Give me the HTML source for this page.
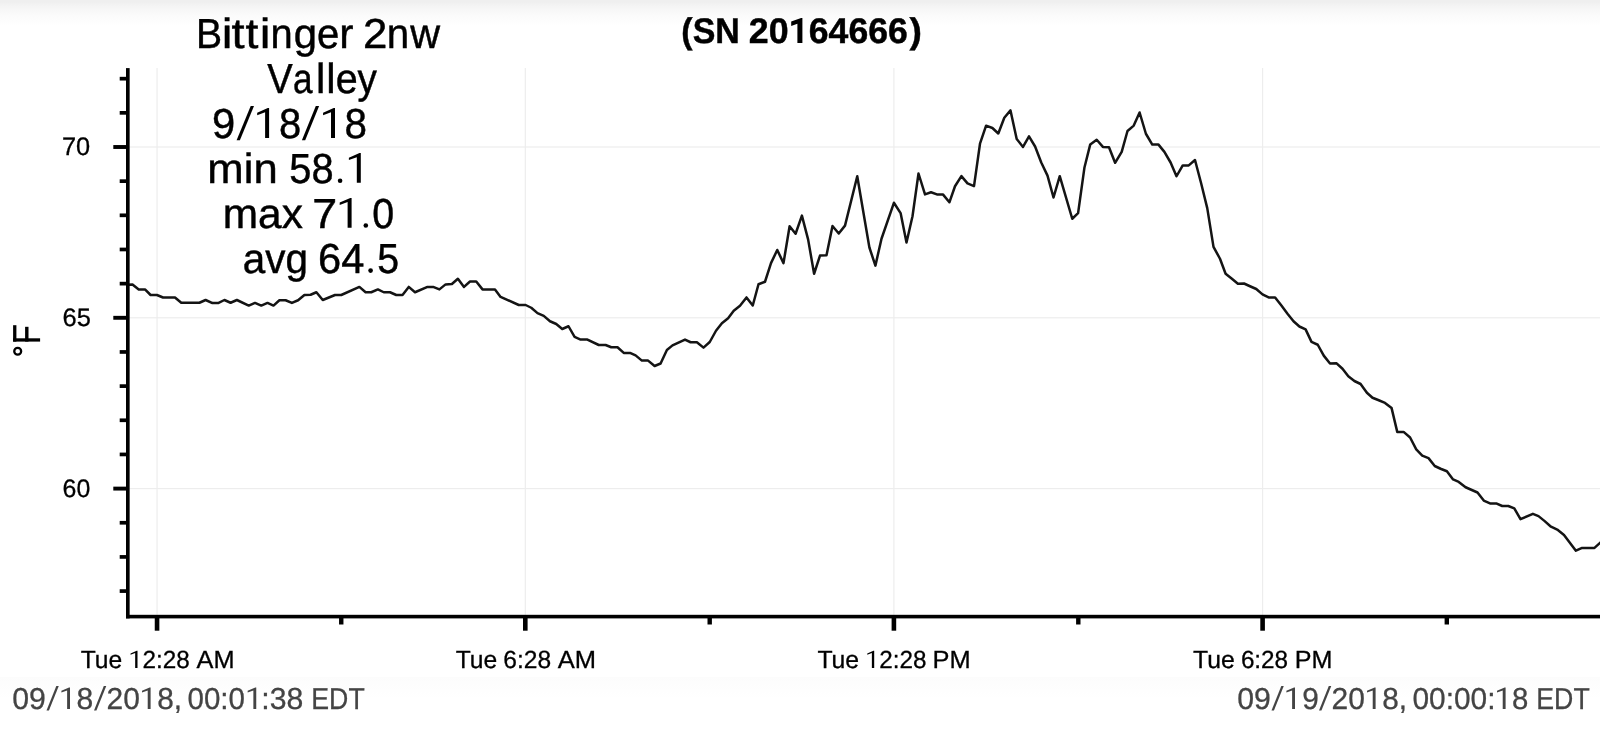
<!DOCTYPE html>
<html><head><meta charset="utf-8"><title>chart</title>
<style>
html,body{margin:0;padding:0;background:#fff;}
body{width:1600px;height:731px;overflow:hidden;position:relative;font-family:"Liberation Sans",sans-serif;}
#top{position:absolute;left:0;top:0;width:1600px;height:26px;background:linear-gradient(to bottom,#efefef 0px,#efefef 2px,#f4f4f4 6px,#f8f8f8 11px,#fbfbfb 16px,#fdfdfd 21px,#ffffff 26px);}
#bot{position:absolute;left:0;top:677px;width:1600px;height:24px;background:linear-gradient(to bottom,#fcfcfc 0px,#fdfdfd 6px,#fefefe 14px,#ffffff 22px);}
svg{position:absolute;left:0;top:0;will-change:transform;}
text{font-family:"Liberation Sans",sans-serif;text-rendering:geometricPrecision;}
</style></head><body>
<div id="top"></div>
<div id="bot"></div>
<svg width="1600" height="731" viewBox="0 0 1600 731">
<rect x="156.45" y="68" width="1.2" height="547" fill="#ededed"/>
<rect x="524.70" y="68" width="1.2" height="547" fill="#ededed"/>
<rect x="893.30" y="68" width="1.2" height="547" fill="#ededed"/>
<rect x="1262.00" y="68" width="1.2" height="547" fill="#ededed"/>
<rect x="129" y="146.40" width="1471" height="1.2" fill="#ededed"/>
<rect x="129" y="317.20" width="1471" height="1.2" fill="#ededed"/>
<rect x="129" y="488.00" width="1471" height="1.2" fill="#ededed"/>
<path d="M127.50,284.80 L132.50,284.40 L138.75,289.40 L145.00,289.40 L150.60,295.00 L156.90,295.00 L163.10,297.50 L175.00,297.50 L181.25,302.75 L199.40,302.75 L205.60,300.00 L212.50,303.10 L218.10,303.10 L224.40,300.00 L230.60,302.75 L236.90,300.00 L248.75,305.60 L255.00,302.90 L261.25,305.60 L267.50,302.90 L273.50,305.60 L279.40,300.25 L285.60,300.25 L291.90,302.90 L298.10,300.25 L304.40,295.00 L310.60,294.75 L316.40,292.25 L322.75,300.00 L335.00,295.00 L341.25,295.00 L359.40,286.90 L365.60,292.25 L371.25,292.25 L377.90,289.40 L383.75,292.25 L390.00,292.25 L396.25,295.00 L402.50,295.00 L408.75,286.90 L415.00,292.25 L427.50,286.90 L433.10,286.90 L439.40,289.40 L445.60,284.40 L451.90,284.00 L457.90,278.75 L464.00,286.90 L470.00,281.50 L476.25,281.50 L482.50,289.40 L495.00,289.40 L500.60,296.90 L518.75,305.00 L525.60,305.00 L531.25,307.75 L537.50,313.10 L543.75,315.90 L550.00,321.25 L556.25,324.00 L562.25,329.00 L568.50,326.25 L574.60,336.90 L580.60,339.60 L586.90,339.40 L598.75,345.00 L605.60,345.00 L611.25,347.25 L617.50,347.25 L623.75,352.90 L630.00,352.90 L635.60,355.40 L641.90,360.60 L648.10,360.60 L654.60,366.00 L660.60,363.50 L666.90,350.00 L672.50,345.40 L685.00,339.60 L690.60,342.25 L696.90,342.25 L703.50,347.60 L709.75,342.00 L716.00,330.75 L721.90,323.25 L728.10,318.25 L733.75,310.75 L740.00,305.75 L746.50,297.40 L752.75,305.50 L758.50,284.25 L765.00,281.75 L771.00,263.10 L777.25,250.00 L783.50,263.10 L789.60,226.25 L795.60,233.75 L801.90,215.60 L808.10,239.40 L814.10,273.75 L820.00,255.60 L826.50,255.25 L832.50,226.00 L838.75,233.50 L845.00,225.60 L857.25,176.25 L863.75,214.50 L869.40,247.50 L875.40,265.60 L881.50,238.75 L893.90,202.80 L900.60,213.10 L906.50,242.50 L912.50,216.25 L918.50,173.50 L925.00,194.40 L931.00,192.25 L936.90,194.40 L943.10,194.60 L949.40,202.30 L955.00,186.25 L961.40,176.10 L967.50,183.40 L974.00,186.10 L980.00,143.70 L986.10,125.70 L992.40,128.00 L998.30,133.50 L1004.30,117.80 L1010.50,110.40 L1016.70,138.90 L1023.00,146.90 L1029.00,136.40 L1035.10,146.50 L1041.25,162.50 L1047.50,175.60 L1053.50,197.50 L1059.75,176.20 L1072.25,218.75 L1078.10,213.10 L1084.40,167.80 L1090.25,144.40 L1096.70,139.70 L1102.90,146.90 L1109.00,147.20 L1115.10,162.80 L1121.70,151.90 L1127.50,131.00 L1133.75,125.60 L1139.60,112.50 L1145.90,133.75 L1152.30,144.60 L1158.50,144.60 L1164.40,151.90 L1170.60,162.50 L1176.50,176.25 L1182.75,165.40 L1188.75,165.40 L1195.00,160.00 L1201.25,183.75 L1207.25,208.10 L1213.50,246.90 L1220.00,258.75 L1225.60,273.75 L1231.90,278.75 L1237.90,283.75 L1244.00,283.50 L1250.00,286.25 L1256.25,289.00 L1262.50,294.40 L1268.60,297.40 L1275.10,297.40 L1281.40,305.60 L1287.50,313.75 L1293.50,321.25 L1299.40,326.50 L1305.60,329.40 L1311.50,341.90 L1317.75,344.75 L1323.75,355.60 L1330.00,363.50 L1336.60,363.30 L1342.50,368.75 L1348.30,376.25 L1354.40,381.00 L1360.60,384.00 L1366.90,392.75 L1372.50,397.75 L1378.75,400.25 L1385.00,402.90 L1391.60,408.10 L1397.25,431.90 L1403.60,431.90 L1410.10,437.50 L1416.25,449.40 L1422.25,455.60 L1428.50,458.10 L1434.75,466.00 L1440.60,468.75 L1446.90,471.25 L1453.10,479.40 L1458.75,481.90 L1465.60,487.25 L1471.25,489.75 L1477.50,492.50 L1483.75,500.60 L1490.00,503.40 L1496.20,503.40 L1502.20,506.00 L1508.30,506.00 L1514.30,508.40 L1520.50,519.20 L1532.90,513.80 L1538.50,516.10 L1544.70,521.10 L1551.00,526.70 L1557.20,529.60 L1564.00,535.00 L1575.90,550.70 L1582.10,547.90 L1594.50,547.90 L1601.00,542.00" fill="none" stroke="#141414" stroke-width="2.5" stroke-linejoin="round" stroke-linecap="butt"/>
<rect x="126.0" y="68.1" width="3.65" height="550.30" fill="#000"/>
<rect x="126.0" y="614.8" width="1474.00" height="3.60" fill="#000"/>
<rect x="119.7" y="589.23" width="7" height="3.7" fill="#000"/>
<rect x="119.7" y="555.07" width="7" height="3.7" fill="#000"/>
<rect x="119.7" y="520.91" width="7" height="3.7" fill="#000"/>
<rect x="113.3" y="486.65" width="13" height="3.9" fill="#000"/>
<rect x="119.7" y="452.59" width="7" height="3.7" fill="#000"/>
<rect x="119.7" y="418.43" width="7" height="3.7" fill="#000"/>
<rect x="119.7" y="384.27" width="7" height="3.7" fill="#000"/>
<rect x="119.7" y="350.11" width="7" height="3.7" fill="#000"/>
<rect x="113.3" y="315.85" width="13" height="3.9" fill="#000"/>
<rect x="119.7" y="281.79" width="7" height="3.7" fill="#000"/>
<rect x="119.7" y="247.63" width="7" height="3.7" fill="#000"/>
<rect x="119.7" y="213.47" width="7" height="3.7" fill="#000"/>
<rect x="119.7" y="179.31" width="7" height="3.7" fill="#000"/>
<rect x="113.3" y="145.05" width="13" height="3.9" fill="#000"/>
<rect x="119.7" y="110.99" width="7" height="3.7" fill="#000"/>
<rect x="119.7" y="76.83" width="7" height="3.7" fill="#000"/>
<rect x="154.75" y="617.4" width="4.6" height="13.30" fill="#000"/>
<rect x="523.00" y="617.4" width="4.6" height="13.30" fill="#000"/>
<rect x="891.60" y="617.4" width="4.6" height="13.30" fill="#000"/>
<rect x="1260.30" y="617.4" width="4.6" height="13.30" fill="#000"/>
<rect x="339.05" y="617.4" width="4.4" height="7.10" fill="#000"/>
<rect x="707.50" y="617.4" width="4.4" height="7.10" fill="#000"/>
<rect x="1076.10" y="617.4" width="4.4" height="7.10" fill="#000"/>
<rect x="1444.60" y="617.4" width="4.4" height="7.10" fill="#000"/>
<text id="s1_0" x="196.04" y="48.00" font-size="42.0" font-weight="400" fill="#000" stroke="#000" stroke-width="0.45" textLength="26.13" lengthAdjust="spacingAndGlyphs">B</text>
<text id="s1_1" x="221.85" y="48.00" font-size="42.0" font-weight="400" fill="#000" stroke="#000" stroke-width="0.45" textLength="10.71" lengthAdjust="spacingAndGlyphs">i</text>
<text id="s1_2" x="231.61" y="48.00" font-size="42.0" font-weight="400" fill="#000" stroke="#000" stroke-width="0.45" textLength="13.06" lengthAdjust="spacingAndGlyphs">t</text>
<text id="s1_3" x="245.47" y="48.00" font-size="42.0" font-weight="400" fill="#000" stroke="#000" stroke-width="0.45" textLength="12.89" lengthAdjust="spacingAndGlyphs">t</text>
<text id="s1_4" x="259.65" y="48.00" font-size="42.0" font-weight="400" fill="#000" stroke="#000" stroke-width="0.45" textLength="10.71" lengthAdjust="spacingAndGlyphs">i</text>
<text id="s1_5" x="270.39" y="48.00" font-size="42.0" font-weight="400" fill="#000" stroke="#000" stroke-width="0.45" textLength="22.19" lengthAdjust="spacingAndGlyphs">n</text>
<text id="s1_6" x="293.65" y="48.00" font-size="42.0" font-weight="400" fill="#000" stroke="#000" stroke-width="0.45" textLength="23.30" lengthAdjust="spacingAndGlyphs">g</text>
<text id="s1_7" x="317.03" y="48.00" font-size="42.0" font-weight="400" fill="#000" stroke="#000" stroke-width="0.45" textLength="22.29" lengthAdjust="spacingAndGlyphs">e</text>
<text id="s1_8" x="339.16" y="48.00" font-size="42.0" font-weight="400" fill="#000" stroke="#000" stroke-width="0.45" textLength="14.20" lengthAdjust="spacingAndGlyphs">r</text>
<text id="s1_9" x="362.91" y="48.00" font-size="42.0" font-weight="400" fill="#000" stroke="#000" stroke-width="0.45" textLength="24.39" lengthAdjust="spacingAndGlyphs">2</text>
<text id="s1_10" x="386.66" y="48.00" font-size="42.0" font-weight="400" fill="#000" stroke="#000" stroke-width="0.45" textLength="22.45" lengthAdjust="spacingAndGlyphs">n</text>
<text id="s1_11" x="410.35" y="48.00" font-size="42.0" font-weight="400" fill="#000" stroke="#000" stroke-width="0.45" textLength="29.84" lengthAdjust="spacingAndGlyphs">w</text>
<text id="s2_0" x="267.17" y="93.00" font-size="42.0" font-weight="400" fill="#000" stroke="#000" stroke-width="0.45" textLength="25.47" lengthAdjust="spacingAndGlyphs">V</text>
<text id="s2_1" x="293.03" y="93.00" font-size="42.0" font-weight="400" fill="#000" stroke="#000" stroke-width="0.45" textLength="19.56" lengthAdjust="spacingAndGlyphs">a</text>
<text id="s2_2" x="316.00" y="93.00" font-size="42.0" font-weight="400" fill="#000" stroke="#000" stroke-width="0.45" textLength="9.34" lengthAdjust="spacingAndGlyphs">l</text>
<text id="s2_3" x="326.15" y="93.00" font-size="42.0" font-weight="400" fill="#000" stroke="#000" stroke-width="0.45" textLength="9.34" lengthAdjust="spacingAndGlyphs">l</text>
<text id="s2_4" x="335.71" y="93.00" font-size="42.0" font-weight="400" fill="#000" stroke="#000" stroke-width="0.45" textLength="21.94" lengthAdjust="spacingAndGlyphs">e</text>
<text id="s2_5" x="357.42" y="93.00" font-size="42.0" font-weight="400" fill="#000" stroke="#000" stroke-width="0.45" textLength="19.36" lengthAdjust="spacingAndGlyphs">y</text>
<text id="s3a" x="212.02" y="138.00" font-size="42.0" font-weight="400" fill="#000" stroke="#000" stroke-width="0.45" textLength="23.18" lengthAdjust="spacingAndGlyphs">9</text>
<text id="s3c" x="278.93" y="138.00" font-size="42.0" font-weight="400" fill="#000" stroke="#000" stroke-width="0.45" textLength="22.24" lengthAdjust="spacingAndGlyphs">8</text>
<text id="s3e" x="344.57" y="138.00" font-size="42.0" font-weight="400" fill="#000" stroke="#000" stroke-width="0.45" textLength="22.47" lengthAdjust="spacingAndGlyphs">8</text>
<text id="s4a" x="207.39" y="183.00" font-size="42.0" font-weight="400" fill="#000" stroke="#000" stroke-width="0.45" textLength="70.41" lengthAdjust="spacingAndGlyphs">min</text>
<text id="s4b" x="289.24" y="183.00" font-size="42.0" font-weight="400" fill="#000" stroke="#000" stroke-width="0.45" textLength="44.29" lengthAdjust="spacingAndGlyphs">58</text>
<text id="s5a" x="222.83" y="228.00" font-size="42.0" font-weight="400" fill="#000" stroke="#000" stroke-width="0.45" textLength="80.04" lengthAdjust="spacingAndGlyphs">max</text>
<text id="s5b" x="312.35" y="228.00" font-size="42.0" font-weight="400" fill="#000" stroke="#000" stroke-width="0.45" textLength="24.90" lengthAdjust="spacingAndGlyphs">7</text>
<text id="s5d" x="372.36" y="228.00" font-size="42.0" font-weight="400" fill="#000" stroke="#000" stroke-width="0.45" textLength="21.90" lengthAdjust="spacingAndGlyphs">0</text>
<text id="s6a" x="242.72" y="273.00" font-size="42.0" font-weight="400" fill="#000" stroke="#000" stroke-width="0.45" textLength="65.15" lengthAdjust="spacingAndGlyphs">avg</text>
<text id="s6b" x="318.02" y="273.00" font-size="42.0" font-weight="400" fill="#000" stroke="#000" stroke-width="0.45" textLength="46.29" lengthAdjust="spacingAndGlyphs">64</text>
<text id="s6d" x="377.36" y="273.00" font-size="42.0" font-weight="400" fill="#000" stroke="#000" stroke-width="0.45" textLength="21.88" lengthAdjust="spacingAndGlyphs">5</text>
<text id="t1" x="681.33" y="43.00" font-size="35.6" font-weight="700" fill="#000" stroke="#000" stroke-width="0.45" textLength="58.49" lengthAdjust="spacingAndGlyphs">(SN</text>
<text id="t2" x="748.84" y="43.00" font-size="35.6" font-weight="700" fill="#000" stroke="#000" stroke-width="0.45" textLength="39.79" lengthAdjust="spacingAndGlyphs">20</text>
<text id="t3" x="808.85" y="43.00" font-size="35.6" font-weight="700" fill="#000" stroke="#000" stroke-width="0.45" textLength="98.89" lengthAdjust="spacingAndGlyphs">64666</text>
<text id="t4" x="909.54" y="43.00" font-size="35.6" font-weight="700" fill="#000" stroke="#000" stroke-width="0.45" textLength="12.41" lengthAdjust="spacingAndGlyphs">)</text>
<text id="y70" x="61.95" y="155.00" font-size="25.3" font-weight="400" fill="#000" stroke="#000" stroke-width="0.3" textLength="28.25" lengthAdjust="spacingAndGlyphs">70</text>
<text id="y65" x="62.54" y="326.00" font-size="25.3" font-weight="400" fill="#000" stroke="#000" stroke-width="0.3" textLength="28.30" lengthAdjust="spacingAndGlyphs">65</text>
<text id="y60" x="62.57" y="497.00" font-size="25.3" font-weight="400" fill="#000" stroke="#000" stroke-width="0.3" textLength="27.71" lengthAdjust="spacingAndGlyphs">60</text>
<text id="x0a" x="80.75" y="668.00" font-size="24.8" font-weight="400" fill="#000" stroke="#000" stroke-width="0.3" textLength="41.50" lengthAdjust="spacingAndGlyphs">Tue</text>
<text id="x0b" x="142.48" y="668.00" font-size="24.8" font-weight="400" fill="#000" stroke="#000" stroke-width="0.3" textLength="47.22" lengthAdjust="spacingAndGlyphs">2:28</text>
<text id="x0c" x="196.60" y="668.00" font-size="24.8" font-weight="400" fill="#000" stroke="#000" stroke-width="0.3" textLength="37.99" lengthAdjust="spacingAndGlyphs">AM</text>
<text id="x1a" x="455.75" y="668.00" font-size="24.8" font-weight="400" fill="#000" stroke="#000" stroke-width="0.3" textLength="41.50" lengthAdjust="spacingAndGlyphs">Tue</text>
<text id="x1b" x="503.36" y="668.00" font-size="24.8" font-weight="400" fill="#000" stroke="#000" stroke-width="0.3" textLength="47.85" lengthAdjust="spacingAndGlyphs">6:28</text>
<text id="x1c" x="557.80" y="668.00" font-size="24.8" font-weight="400" fill="#000" stroke="#000" stroke-width="0.3" textLength="38.31" lengthAdjust="spacingAndGlyphs">AM</text>
<text id="x2a" x="817.40" y="668.00" font-size="24.8" font-weight="400" fill="#000" stroke="#000" stroke-width="0.3" textLength="41.76" lengthAdjust="spacingAndGlyphs">Tue</text>
<text id="x2b" x="879.18" y="668.00" font-size="24.8" font-weight="400" fill="#000" stroke="#000" stroke-width="0.3" textLength="47.22" lengthAdjust="spacingAndGlyphs">2:28</text>
<text id="x2c" x="932.55" y="668.00" font-size="24.8" font-weight="400" fill="#000" stroke="#000" stroke-width="0.3" textLength="38.15" lengthAdjust="spacingAndGlyphs">PM</text>
<text id="x3a" x="1193.00" y="668.00" font-size="24.8" font-weight="400" fill="#000" stroke="#000" stroke-width="0.3" textLength="41.76" lengthAdjust="spacingAndGlyphs">Tue</text>
<text id="x3b" x="1240.88" y="668.00" font-size="24.8" font-weight="400" fill="#000" stroke="#000" stroke-width="0.3" textLength="47.22" lengthAdjust="spacingAndGlyphs">6:28</text>
<text id="x3c" x="1294.67" y="668.00" font-size="24.8" font-weight="400" fill="#000" stroke="#000" stroke-width="0.3" textLength="37.71" lengthAdjust="spacingAndGlyphs">PM</text>
<text id="b0a" x="12.25" y="709.00" font-size="30.3" font-weight="400" fill="#444" stroke="#444" stroke-width="0.3" textLength="33.59" lengthAdjust="spacingAndGlyphs">09</text>
<text id="b0c" x="76.51" y="709.00" font-size="30.3" font-weight="400" fill="#444" stroke="#444" stroke-width="0.3" textLength="16.74" lengthAdjust="spacingAndGlyphs">8</text>
<text id="b0e" x="106.62" y="709.00" font-size="30.3" font-weight="400" fill="#444" stroke="#444" stroke-width="0.3" textLength="33.32" lengthAdjust="spacingAndGlyphs">20</text>
<text id="b0f" x="157.27" y="709.00" font-size="30.3" font-weight="400" fill="#444" stroke="#444" stroke-width="0.3" textLength="24.86" lengthAdjust="spacingAndGlyphs">8,</text>
<text id="b0g" x="187.53" y="709.00" font-size="30.3" font-weight="400" fill="#444" stroke="#444" stroke-width="0.3" textLength="57.40" lengthAdjust="spacingAndGlyphs">00:0</text>
<text id="b0h" x="261.26" y="709.00" font-size="30.3" font-weight="400" fill="#444" stroke="#444" stroke-width="0.3" textLength="42.01" lengthAdjust="spacingAndGlyphs">:38</text>
<text id="b0i" x="311.29" y="709.00" font-size="30.3" font-weight="400" fill="#444" stroke="#444" stroke-width="0.3" textLength="53.46" lengthAdjust="spacingAndGlyphs">EDT</text>
<text id="b1a" x="1237.25" y="709.00" font-size="30.3" font-weight="400" fill="#444" stroke="#444" stroke-width="0.3" textLength="33.59" lengthAdjust="spacingAndGlyphs">09</text>
<text id="b1c" x="1302.28" y="709.00" font-size="30.3" font-weight="400" fill="#444" stroke="#444" stroke-width="0.3" textLength="16.56" lengthAdjust="spacingAndGlyphs">9</text>
<text id="b1e" x="1331.62" y="709.00" font-size="30.3" font-weight="400" fill="#444" stroke="#444" stroke-width="0.3" textLength="33.32" lengthAdjust="spacingAndGlyphs">20</text>
<text id="b1f" x="1382.27" y="709.00" font-size="30.3" font-weight="400" fill="#444" stroke="#444" stroke-width="0.3" textLength="24.86" lengthAdjust="spacingAndGlyphs">8,</text>
<text id="b1g" x="1412.52" y="709.00" font-size="30.3" font-weight="400" fill="#444" stroke="#444" stroke-width="0.3" textLength="82.92" lengthAdjust="spacingAndGlyphs">00:00:</text>
<text id="b1h" x="1511.89" y="709.00" font-size="30.3" font-weight="400" fill="#444" stroke="#444" stroke-width="0.3" textLength="16.33" lengthAdjust="spacingAndGlyphs">8</text>
<text id="b1i" x="1536.29" y="709.00" font-size="30.3" font-weight="400" fill="#444" stroke="#444" stroke-width="0.3" textLength="53.46" lengthAdjust="spacingAndGlyphs">EDT</text>
<circle cx="340.1" cy="180.8" r="2.3" fill="#000"/>
<circle cx="365.8" cy="225.5" r="2.3" fill="#000"/>
<circle cx="370.6" cy="270.6" r="2.35" fill="#000"/>
<rect x="13.1" y="338.3" width="27.0" height="3.3" fill="#000"/>
<rect x="13.1" y="325.2" width="3.3" height="16.4" fill="#000"/>
<rect x="25.1" y="326.8" width="3.4" height="14.8" fill="#000"/>
<circle cx="17.7" cy="351.25" r="3.45" fill="none" stroke="#000" stroke-width="2.3"/>
<polygon points="269.10,137.90 269.10,108.10 267.79,108.10 257.18,112.75 257.18,115.16 265.11,112.24 265.11,137.90" fill="#000"/>
<polygon points="335.00,137.90 335.00,108.10 333.69,108.10 323.08,112.75 323.08,115.16 331.01,112.24 331.01,137.90" fill="#000"/>
<polygon points="360.80,182.85 360.80,153.05 359.49,153.05 348.88,157.70 348.88,160.11 356.81,157.19 356.81,182.85" fill="#000"/>
<polygon points="351.60,227.70 351.60,197.90 350.29,197.90 339.68,202.55 339.68,204.96 347.61,202.04 347.61,227.70" fill="#000"/>
<polygon points="802.40,43.10 802.40,18.10 801.10,18.10 791.20,21.40 791.20,25.90 797.40,23.70 797.40,43.10" fill="#000"/>
<polygon points="137.50,668.10 137.50,650.70 136.73,650.70 130.54,653.41 130.54,654.82 135.17,653.12 135.17,668.10" fill="#000"/>
<polygon points="874.20,668.10 874.20,650.70 873.43,650.70 867.24,653.41 867.24,654.82 871.87,653.12 871.87,668.10" fill="#000"/>
<polygon points="70.00,709.00 70.00,687.50 69.05,687.50 61.40,690.85 61.40,692.60 67.12,690.49 67.12,709.00" fill="#444"/>
<polygon points="150.60,709.00 150.60,687.50 149.65,687.50 142.00,690.85 142.00,692.60 147.72,690.49 147.72,709.00" fill="#444"/>
<polygon points="256.25,709.00 256.25,687.50 255.30,687.50 247.65,690.85 247.65,692.60 253.37,690.49 253.37,709.00" fill="#444"/>
<polygon points="1295.00,709.00 1295.00,687.50 1294.05,687.50 1286.40,690.85 1286.40,692.60 1292.12,690.49 1292.12,709.00" fill="#444"/>
<polygon points="1375.60,709.00 1375.60,687.50 1374.65,687.50 1367.00,690.85 1367.00,692.60 1372.72,690.49 1372.72,709.00" fill="#444"/>
<polygon points="1505.60,709.00 1505.60,687.50 1504.65,687.50 1497.00,690.85 1497.00,692.60 1502.72,690.49 1502.72,709.00" fill="#444"/>
<polygon points="236.60,140.30 239.90,140.30 254.00,106.00 250.70,106.00" fill="#000"/>
<polygon points="301.90,140.30 305.20,140.30 319.10,106.00 315.80,106.00" fill="#000"/>
<polygon points="46.50,710.60 48.95,710.60 58.75,686.00 56.30,686.00" fill="#444"/>
<polygon points="94.00,710.60 96.45,710.60 106.25,686.00 103.80,686.00" fill="#444"/>
<polygon points="1271.50,710.60 1273.95,710.60 1283.75,686.00 1281.30,686.00" fill="#444"/>
<polygon points="1319.00,710.60 1321.45,710.60 1331.25,686.00 1328.80,686.00" fill="#444"/>
</svg>
</body></html>
